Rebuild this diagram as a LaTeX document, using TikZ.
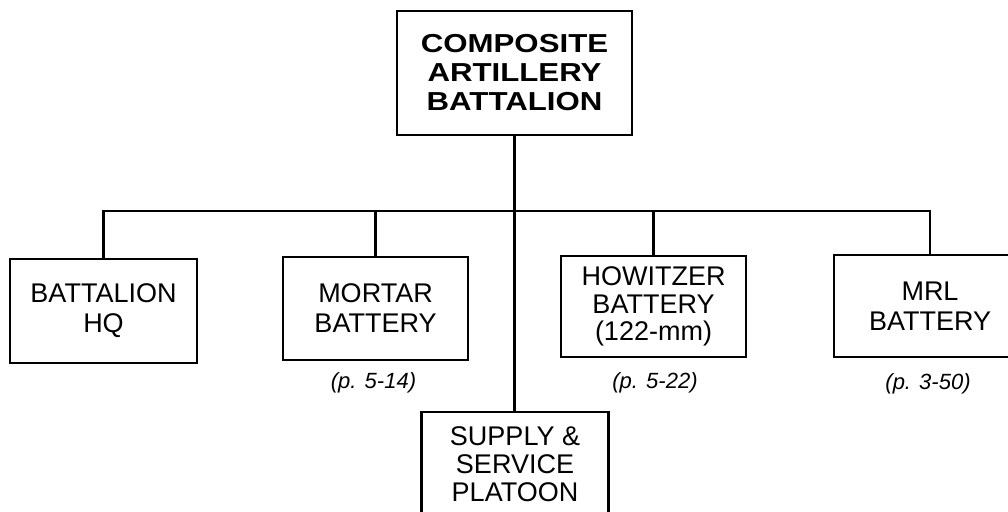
\documentclass[tikz,border=0pt]{standalone}
\usepackage{fontspec}
\setmainfont{Liberation Sans}
\newfontfamily\widesans[FakeStretch=1.2]{Liberation Sans}
\tikzset{
  box/.style={draw, line width=2.4pt, inner sep=0pt, align=center,
    font=\fontsize{27}{30}\selectfont},
  topbox/.style={box, font=\widesans\bfseries\fontsize{26}{29}\selectfont},
  pageref/.style={anchor=base, inner sep=0pt, font=\fontsize{22}{24}\selectfont\itshape},
  wire/.style={line width=2.2pt}
}
\begin{document}
\begin{tikzpicture}[x=1pt,y=-1pt]
\useasboundingbox (0,0) rectangle (1008,511);
\clip (0,0) rectangle (1008,511);
\node[topbox, minimum width=235pt, minimum height=124pt] (top) at (514.5,73) {COMPOSITE\\ARTILLERY\\BATTALION};
\node[box, minimum width=187pt, minimum height=104pt] (hq) at (103.5,311) {BATTALION\\HQ};
\node[box, minimum width=185pt, minimum height=103pt] (mor) at (375.5,308.5) {MORTAR\\BATTERY};
\node[box, minimum width=185pt, minimum height=101pt, font=\fontsize{27}{27.5}\selectfont] (how) at (653.5,306.5) {HOWITZER\\BATTERY\\(122-mm)};
\node[box, minimum width=192pt, minimum height=102pt] (mrl) at (930,306) {MRL\\BATTERY};
\node[box, minimum width=187pt, minimum height=104pt, font=\fontsize{27}{28}\selectfont] (sup) at (515,464) {SUPPLY \&\\SERVICE\\PLATOON};
\node[pageref] (rmor) at (373.5,388) {(p. 5-14)};
\node[pageref] (rhow) at (655,388) {(p. 5-22)};
\node[pageref] (rmrl) at (928,389) {(p. 3-50)};
\path (top.south) ++(0,75) coordinate (bus);
\draw[wire] (top.south) -- (top.south |- sup.north);
\draw[wire] (bus) -| (hq.north);
\draw[wire] (bus) -| (mor.north);
\draw[wire] (bus) -| (how.north);
\draw[wire] (bus) -| (mrl.north);
\end{tikzpicture}
\end{document}
